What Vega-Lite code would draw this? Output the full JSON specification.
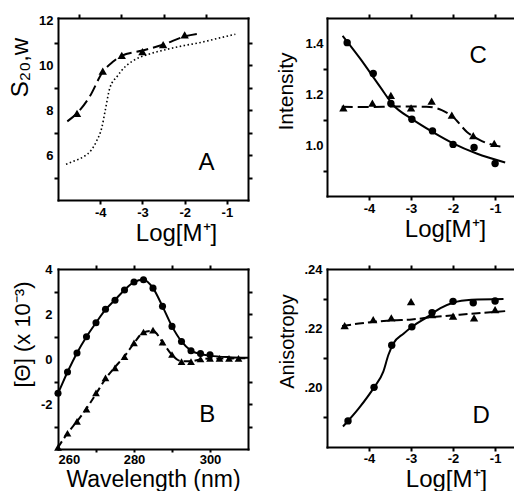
{
  "$schema": "https://vega.github.io/schema/vega-lite/v6.json",
  "padding": {"left": 8, "top": 13, "right": 0, "bottom": 0},
  "background": "white",
  "columns": 2,
  "spacing": {"row": 69, "column": 79},
  "bounds": "flush",
  "config": {
    "font": "Liberation Sans",
    "view": {"stroke": null},
    "axis": {
      "grid": false, "domain": false, "domainColor": "black", "domainWidth": 2, "domainCap": "square",
      "ticks": false, "tickColor": "black", "tickWidth": 2, "tickSize": 4,
      "labelFont": "Liberation Sans", "labelFontWeight": "bold", "labelFontSize": 13, "labelColor": "black",
      "labelPadding": 5,
      "titleFont": "Liberation Sans", "titleFontWeight": "normal", "titleFontSize": 22, "titleColor": "black"
    }
  },
  "concat": [
    {
      "width": 190, "height": 182,
      "data": {"values": [
        {"s": "tri", "x": -4.55, "y": 7.86}, {"s": "tri", "x": -3.94, "y": 9.74}, {"s": "tri", "x": -3.49, "y": 10.44},
        {"s": "tri", "x": -3.0, "y": 10.6}, {"s": "tri", "x": -2.51, "y": 10.92}, {"s": "tri", "x": -2.0, "y": 11.35},
        {"s": "dash", "x": -4.78, "y": 7.5}, {"s": "dash", "x": -4.55, "y": 7.86}, {"s": "dash", "x": -4.25, "y": 8.6},
        {"s": "dash", "x": -3.94, "y": 9.7}, {"s": "dash", "x": -3.7, "y": 10.15}, {"s": "dash", "x": -3.49, "y": 10.42},
        {"s": "dash", "x": -3.0, "y": 10.65}, {"s": "dash", "x": -2.5, "y": 10.92}, {"s": "dash", "x": -2.0, "y": 11.28},
        {"s": "dash", "x": -1.6, "y": 11.42},
        {"s": "dot", "x": -4.81, "y": 5.59}, {"s": "dot", "x": -4.6, "y": 5.75}, {"s": "dot", "x": -4.39, "y": 5.93},
        {"s": "dot", "x": -4.2, "y": 6.25}, {"s": "dot", "x": -4.08, "y": 6.65}, {"s": "dot", "x": -3.96, "y": 7.24},
        {"s": "dot", "x": -3.88, "y": 8.0}, {"s": "dot", "x": -3.77, "y": 9.0}, {"s": "dot", "x": -3.6, "y": 9.5},
        {"s": "dot", "x": -3.4, "y": 9.95}, {"s": "dot", "x": -3.22, "y": 10.2}, {"s": "dot", "x": -2.83, "y": 10.5},
        {"s": "dot", "x": -2.43, "y": 10.7}, {"s": "dot", "x": -2.0, "y": 10.88}, {"s": "dot", "x": -1.65, "y": 11.0},
        {"s": "dot", "x": -1.2, "y": 11.2}, {"s": "dot", "x": -0.8, "y": 11.38},
        {"s": "lab", "x": -1.48, "y": 5.66, "t": "A"}
      ]},
      "layer": [
        {
          "transform": [{"filter": "datum.s == 'dot'"}],
          "mark": {"type": "line", "interpolate": "monotone", "strokeDash": [1.5, 2.5], "strokeWidth": 1.6, "color": "black", "clip": true},
          "encoding": {
            "x": {"field": "x", "type": "quantitative", "scale": {"domain": [-5, -0.5], "nice": false, "zero": false},
                  "axis": {"orient": "bottom", "domain": true, "values": [-4, -3, -2, -1], "labelExpr": "'-' + abs(datum.value)", "title": "Log[M⁺]", "titleFontSize": 24, "titleX": 118, "labelPadding": 6, "titlePadding": 2}},
            "y": {"field": "y", "type": "quantitative", "scale": {"domain": [4, 12.1], "nice": false, "zero": false},
                  "axis": {"orient": "left", "domain": true, "values": [6, 8, 10, 12], "title": "S₂₀,w", "titleFontSize": 24, "titleY": 49, "labelPadding": 5, "titlePadding": 6}}
          }
        },
        {
          "transform": [{"filter": "datum.s == 'dash'"}],
          "mark": {"type": "line", "interpolate": "monotone", "strokeDash": [12, 5], "strokeWidth": 2, "color": "black", "clip": true},
          "encoding": {
            "x": {"field": "x", "type": "quantitative", "scale": {"domain": [-5, -0.5], "nice": false, "zero": false},
                  "axis": {"orient": "top", "domain": true, "labels": false, "title": null}},
            "y": {"field": "y", "type": "quantitative", "scale": {"domain": [4, 12.1], "nice": false, "zero": false},
                  "axis": {"orient": "right", "domain": true, "labels": false, "title": null}}
          }
        },
        {
          "transform": [{"filter": "datum.s == 'tri'"}],
          "mark": {"type": "point", "shape": "triangle-up", "filled": true, "size": 70, "color": "black", "opacity": 1},
          "encoding": {
            "x": {"field": "x", "type": "quantitative", "scale": {"domain": [-5, -0.5], "nice": false, "zero": false},
                  "axis": {"orient": "bottom", "ticks": true, "tickSize": 4, "tickColor": "black", "tickWidth": 2, "values": [-4, -3, -2, -1], "labels": false, "title": null}},
            "y": {"field": "y", "type": "quantitative", "scale": {"domain": [4, 12.1], "nice": false, "zero": false},
                  "axis": {"orient": "left", "ticks": true, "tickSize": 4, "tickColor": "black", "tickWidth": 2, "values": [5, 7, 9, 11], "labels": false, "title": null}}
          }
        },
        {
          "transform": [{"filter": "datum.s == 'lab'"}],
          "mark": {"type": "text", "fontSize": 24, "font": "Liberation Sans", "color": "black", "baseline": "middle", "align": "center"},
          "encoding": {
            "x": {"field": "x", "type": "quantitative", "scale": {"domain": [-5, -0.5], "nice": false, "zero": false},
                  "axis": {"orient": "top", "ticks": true, "tickSize": 4, "tickColor": "black", "tickWidth": 2, "values": [-4.5, -3.5, -2.5, -1.5], "labels": false, "title": null}},
            "y": {"field": "y", "type": "quantitative", "scale": {"domain": [4, 12.1], "nice": false, "zero": false},
                  "axis": {"orient": "right", "ticks": true, "tickSize": 4, "tickColor": "black", "tickWidth": 2, "values": [5, 6, 7, 8, 9, 10, 11], "labels": false, "title": null}},
            "text": {"field": "t"}
          }
        }
      ],
      "resolve": {"axis": {"x": "independent", "y": "independent"}}
    },
    {
      "width": 187, "height": 178,
      "data": {"values": [
        {"s": "circ", "x": -4.52, "y": 1.403}, {"s": "circ", "x": -3.9, "y": 1.282}, {"s": "circ", "x": -3.48, "y": 1.164},
        {"s": "circ", "x": -2.98, "y": 1.102}, {"s": "circ", "x": -2.49, "y": 1.056}, {"s": "circ", "x": -2.0, "y": 1.003},
        {"s": "circ", "x": -1.5, "y": 0.991}, {"s": "circ", "x": -1.0, "y": 0.928},
        {"s": "tri", "x": -4.61, "y": 1.147}, {"s": "tri", "x": -3.92, "y": 1.165}, {"s": "tri", "x": -3.48, "y": 1.196},
        {"s": "tri", "x": -3.0, "y": 1.147}, {"s": "tri", "x": -2.51, "y": 1.173}, {"s": "tri", "x": -2.03, "y": 1.118},
        {"s": "tri", "x": -1.52, "y": 1.037}, {"s": "tri", "x": -1.02, "y": 1.007},
        {"s": "solid", "x": -4.63, "y": 1.43}, {"s": "solid", "x": -4.21, "y": 1.34}, {"s": "solid", "x": -3.74, "y": 1.23},
        {"s": "solid", "x": -3.42, "y": 1.157}, {"s": "solid", "x": -3.0, "y": 1.105}, {"s": "solid", "x": -2.47, "y": 1.05},
        {"s": "solid", "x": -2.0, "y": 1.007}, {"s": "solid", "x": -1.44, "y": 0.967}, {"s": "solid", "x": -0.76, "y": 0.932},
        {"s": "dash", "x": -4.65, "y": 1.151}, {"s": "dash", "x": -4.0, "y": 1.15}, {"s": "dash", "x": -3.3, "y": 1.152},
        {"s": "dash", "x": -2.63, "y": 1.151}, {"s": "dash", "x": -2.27, "y": 1.138}, {"s": "dash", "x": -2.0, "y": 1.111},
        {"s": "dash", "x": -1.67, "y": 1.052}, {"s": "dash", "x": -1.36, "y": 1.02}, {"s": "dash", "x": -1.04, "y": 1.0},
        {"s": "dash", "x": -0.76, "y": 0.993},
        {"s": "lab", "x": -1.4, "y": 1.35, "t": "C"}
      ]},
      "layer": [
        {
          "transform": [{"filter": "datum.s == 'solid'"}],
          "mark": {"type": "line", "interpolate": "monotone", "strokeWidth": 2, "color": "black", "clip": true},
          "encoding": {
            "x": {"field": "x", "type": "quantitative", "scale": {"domain": [-5, -0.55], "nice": false, "zero": false},
                  "axis": {"orient": "bottom", "domain": true, "values": [-4, -3, -2, -1], "labelExpr": "'-' + abs(datum.value)", "title": "Log[M⁺]", "titleFontSize": 24, "titleX": 118, "labelPadding": 6, "titlePadding": 2}},
            "y": {"field": "y", "type": "quantitative", "scale": {"domain": [0.8, 1.5], "nice": false, "zero": false},
                  "axis": {"orient": "left", "domain": true, "values": [1.0, 1.2, 1.4], "format": ".1f", "title": "Intensity", "titleFontSize": 21, "titleY": 73, "labelPadding": 4, "titlePadding": 8}}
          }
        },
        {
          "transform": [{"filter": "datum.s == 'dash'"}],
          "mark": {"type": "line", "interpolate": "monotone", "strokeDash": [11, 5], "strokeWidth": 2, "color": "black", "clip": true},
          "encoding": {
            "x": {"field": "x", "type": "quantitative", "scale": {"domain": [-5, -0.55], "nice": false, "zero": false},
                  "axis": {"orient": "top", "domain": true, "labels": false, "title": null}},
            "y": {"field": "y", "type": "quantitative", "scale": {"domain": [0.8, 1.5], "nice": false, "zero": false}, "axis": null}
          }
        },
        {
          "transform": [{"filter": "datum.s == 'tri'"}],
          "mark": {"type": "point", "shape": "triangle-up", "filled": true, "size": 70, "color": "black", "opacity": 1},
          "encoding": {
            "x": {"field": "x", "type": "quantitative", "scale": {"domain": [-5, -0.55], "nice": false, "zero": false},
                  "axis": {"orient": "bottom", "ticks": true, "tickSize": 4, "tickColor": "black", "tickWidth": 2, "values": [-4, -3, -2, -1], "labels": false, "title": null}},
            "y": {"field": "y", "type": "quantitative", "scale": {"domain": [0.8, 1.5], "nice": false, "zero": false},
                  "axis": {"orient": "left", "ticks": true, "tickSize": 4, "tickColor": "black", "tickWidth": 2, "values": [0.9, 1.1, 1.3], "labels": false, "title": null}}
          }
        },
        {
          "transform": [{"filter": "datum.s == 'circ'"}],
          "mark": {"type": "point", "shape": "circle", "filled": true, "size": 55, "color": "black", "opacity": 1},
          "encoding": {
            "x": {"field": "x", "type": "quantitative", "scale": {"domain": [-5, -0.55], "nice": false, "zero": false},
                  "axis": {"orient": "top", "ticks": true, "tickSize": 4, "tickColor": "black", "tickWidth": 2, "values": [-4, -3, -2, -1], "labels": false, "title": null}},
            "y": {"field": "y", "type": "quantitative", "scale": {"domain": [0.8, 1.5], "nice": false, "zero": false}, "axis": null}
          }
        },
        {
          "transform": [{"filter": "datum.s == 'lab'"}],
          "mark": {"type": "text", "fontSize": 24, "font": "Liberation Sans", "color": "black", "baseline": "middle", "align": "center"},
          "encoding": {
            "x": {"field": "x", "type": "quantitative", "scale": {"domain": [-5, -0.55], "nice": false, "zero": false}, "axis": null},
            "y": {"field": "y", "type": "quantitative", "scale": {"domain": [0.8, 1.5], "nice": false, "zero": false}, "axis": null},
            "text": {"field": "t"}
          }
        }
      ],
      "resolve": {"axis": {"x": "independent", "y": "independent"}}
    },
    {
      "width": 190, "height": 180,
      "data": {"values": [
        {"s": "circ", "x": 260, "y": -1.52}, {"s": "circ", "x": 262.5, "y": -0.58}, {"s": "circ", "x": 265, "y": 0.27},
        {"s": "circ", "x": 267.5, "y": 0.99}, {"s": "circ", "x": 270, "y": 1.61}, {"s": "circ", "x": 272.5, "y": 2.21},
        {"s": "circ", "x": 275, "y": 2.61}, {"s": "circ", "x": 277.5, "y": 3.07}, {"s": "circ", "x": 280, "y": 3.42},
        {"s": "circ", "x": 282.5, "y": 3.52}, {"s": "circ", "x": 285, "y": 3.15}, {"s": "circ", "x": 287.5, "y": 2.34},
        {"s": "circ", "x": 290, "y": 1.45}, {"s": "circ", "x": 292.5, "y": 0.78}, {"s": "circ", "x": 295, "y": 0.37},
        {"s": "circ", "x": 297.5, "y": 0.24}, {"s": "circ", "x": 300, "y": 0.19},
        {"s": "solid", "x": 259, "y": -1.85}, {"s": "solid", "x": 260, "y": -1.52}, {"s": "solid", "x": 262.5, "y": -0.58},
        {"s": "solid", "x": 265, "y": 0.27}, {"s": "solid", "x": 267.5, "y": 0.99}, {"s": "solid", "x": 270, "y": 1.61},
        {"s": "solid", "x": 272.5, "y": 2.19}, {"s": "solid", "x": 275, "y": 2.63}, {"s": "solid", "x": 277.5, "y": 3.07},
        {"s": "solid", "x": 280, "y": 3.42}, {"s": "solid", "x": 282.5, "y": 3.52}, {"s": "solid", "x": 285, "y": 3.15},
        {"s": "solid", "x": 287.5, "y": 2.34}, {"s": "solid", "x": 290, "y": 1.45}, {"s": "solid", "x": 292.5, "y": 0.78},
        {"s": "solid", "x": 295, "y": 0.37}, {"s": "solid", "x": 297.5, "y": 0.22}, {"s": "solid", "x": 300, "y": 0.15},
        {"s": "solid", "x": 305, "y": 0.08}, {"s": "solid", "x": 310, "y": 0.05},
        {"s": "tri", "x": 260, "y": -3.93}, {"s": "tri", "x": 262.5, "y": -3.3}, {"s": "tri", "x": 265, "y": -2.77},
        {"s": "tri", "x": 267.5, "y": -2.23}, {"s": "tri", "x": 270, "y": -1.51}, {"s": "tri", "x": 272.5, "y": -0.84},
        {"s": "tri", "x": 275, "y": -0.39}, {"s": "tri", "x": 277.5, "y": 0.1}, {"s": "tri", "x": 280, "y": 0.72},
        {"s": "tri", "x": 282.5, "y": 1.2}, {"s": "tri", "x": 285, "y": 1.28}, {"s": "tri", "x": 287.5, "y": 0.75},
        {"s": "tri", "x": 290, "y": 0.2}, {"s": "tri", "x": 292.5, "y": -0.12}, {"s": "tri", "x": 295, "y": -0.12},
        {"s": "tri", "x": 297.5, "y": 0.0}, {"s": "tri", "x": 300, "y": 0.03}, {"s": "tri", "x": 302.5, "y": 0.03},
        {"s": "tri", "x": 305, "y": 0.03}, {"s": "tri", "x": 307.5, "y": 0.03},
        {"s": "dash", "x": 260, "y": -3.93}, {"s": "dash", "x": 262.5, "y": -3.3}, {"s": "dash", "x": 265, "y": -2.77},
        {"s": "dash", "x": 267.5, "y": -2.2}, {"s": "dash", "x": 270, "y": -1.55}, {"s": "dash", "x": 272.5, "y": -0.88},
        {"s": "dash", "x": 275, "y": -0.36}, {"s": "dash", "x": 277.5, "y": 0.12}, {"s": "dash", "x": 280, "y": 0.7},
        {"s": "dash", "x": 282.5, "y": 1.18}, {"s": "dash", "x": 285, "y": 1.25}, {"s": "dash", "x": 287.5, "y": 0.75},
        {"s": "dash", "x": 290, "y": 0.18}, {"s": "dash", "x": 292.5, "y": -0.1}, {"s": "dash", "x": 295, "y": -0.1},
        {"s": "dash", "x": 297.5, "y": -0.02}, {"s": "dash", "x": 300, "y": 0.02}, {"s": "dash", "x": 310, "y": 0.03},
        {"s": "lab", "x": 299.3, "y": -2.49, "t": "B"}
      ]},
      "layer": [
        {
          "transform": [{"filter": "datum.s == 'solid'"}],
          "mark": {"type": "line", "interpolate": "monotone", "strokeWidth": 2, "color": "black", "clip": true},
          "encoding": {
            "x": {"field": "x", "type": "quantitative", "scale": {"domain": [260, 310], "nice": false, "zero": false},
                  "axis": {"orient": "bottom", "domain": true, "values": [260, 280, 300], "title": "Wavelength (nm)", "titleFontSize": 23, "labelPadding": 4, "titlePadding": 2}},
            "y": {"field": "y", "type": "quantitative", "scale": {"domain": [-4, 4], "nice": false, "zero": false},
                  "axis": {"orient": "left", "domain": true, "values": [-2, 0, 2, 4], "labelExpr": "datum.value < 0 ? '-' + abs(datum.value) : '' + datum.value", "title": "[Θ] (x 10⁻³)", "titleFontSize": 22, "titleY": 65, "labelPadding": 6, "titlePadding": 6}}
          }
        },
        {
          "transform": [{"filter": "datum.s == 'dash'"}],
          "mark": {"type": "line", "interpolate": "monotone", "strokeDash": [7, 4], "strokeWidth": 2, "color": "black", "clip": true},
          "encoding": {
            "x": {"field": "x", "type": "quantitative", "scale": {"domain": [260, 310], "nice": false, "zero": false},
                  "axis": {"orient": "top", "domain": true, "labels": false, "title": null}},
            "y": {"field": "y", "type": "quantitative", "scale": {"domain": [-4, 4], "nice": false, "zero": false},
                  "axis": {"orient": "right", "domain": true, "labels": false, "title": null}}
          }
        },
        {
          "transform": [{"filter": "datum.s == 'tri'"}],
          "mark": {"type": "point", "shape": "triangle-up", "filled": true, "size": 60, "color": "black", "opacity": 1},
          "encoding": {
            "x": {"field": "x", "type": "quantitative", "scale": {"domain": [260, 310], "nice": false, "zero": false},
                  "axis": {"orient": "bottom", "ticks": true, "tickSize": 3, "tickColor": "black", "tickWidth": 2, "values": [270, 280, 290, 300], "labels": false, "title": null}},
            "y": {"field": "y", "type": "quantitative", "scale": {"domain": [-4, 4], "nice": false, "zero": false},
                  "axis": {"orient": "left", "ticks": true, "tickSize": 4, "tickColor": "black", "tickWidth": 2, "values": [-3, -1, 1, 3], "labels": false, "title": null}}
          }
        },
        {
          "transform": [{"filter": "datum.s == 'circ'"}],
          "mark": {"type": "point", "shape": "circle", "filled": true, "size": 50, "color": "black", "opacity": 1},
          "encoding": {
            "x": {"field": "x", "type": "quantitative", "scale": {"domain": [260, 310], "nice": false, "zero": false},
                  "axis": {"orient": "top", "ticks": true, "tickSize": 4, "tickColor": "black", "tickWidth": 2, "values": [270, 280, 290, 300], "labels": false, "title": null}},
            "y": {"field": "y", "type": "quantitative", "scale": {"domain": [-4, 4], "nice": false, "zero": false},
                  "axis": {"orient": "right", "ticks": true, "tickSize": 4, "tickColor": "black", "tickWidth": 2, "values": [-3, -2, -1, 1, 2, 3], "labels": false, "title": null}}
          }
        },
        {
          "transform": [{"filter": "datum.s == 'lab'"}],
          "mark": {"type": "text", "fontSize": 24, "font": "Liberation Sans", "color": "black", "baseline": "middle", "align": "center"},
          "encoding": {
            "x": {"field": "x", "type": "quantitative", "scale": {"domain": [260, 310], "nice": false, "zero": false}, "axis": null},
            "y": {"field": "y", "type": "quantitative", "scale": {"domain": [-4, 4], "nice": false, "zero": false}, "axis": null},
            "text": {"field": "t"}
          }
        }
      ],
      "resolve": {"axis": {"x": "independent", "y": "independent"}}
    },
    {
      "width": 187, "height": 178,
      "data": {"values": [
        {"s": "circ", "x": -4.5, "y": 0.1888}, {"s": "circ", "x": -3.88, "y": 0.2001}, {"s": "circ", "x": -3.46, "y": 0.2143},
        {"s": "circ", "x": -2.98, "y": 0.2205}, {"s": "circ", "x": -2.5, "y": 0.2253}, {"s": "circ", "x": -2.0, "y": 0.2291},
        {"s": "circ", "x": -1.52, "y": 0.2286}, {"s": "circ", "x": -1.0, "y": 0.2292},
        {"s": "tri", "x": -4.58, "y": 0.2209}, {"s": "tri", "x": -3.9, "y": 0.2229}, {"s": "tri", "x": -3.47, "y": 0.2235},
        {"s": "tri", "x": -3.0, "y": 0.229}, {"s": "tri", "x": -2.5, "y": 0.2246}, {"s": "tri", "x": -2.0, "y": 0.2241},
        {"s": "tri", "x": -1.5, "y": 0.2235}, {"s": "tri", "x": -1.0, "y": 0.2263},
        {"s": "solid", "x": -4.62, "y": 0.1869}, {"s": "solid", "x": -4.24, "y": 0.1931}, {"s": "solid", "x": -3.88, "y": 0.2001},
        {"s": "solid", "x": -3.66, "y": 0.2054}, {"s": "solid", "x": -3.54, "y": 0.211}, {"s": "solid", "x": -3.42, "y": 0.2149},
        {"s": "solid", "x": -3.18, "y": 0.2182}, {"s": "solid", "x": -2.96, "y": 0.2207}, {"s": "solid", "x": -2.62, "y": 0.2238},
        {"s": "solid", "x": -2.3, "y": 0.2268}, {"s": "solid", "x": -2.0, "y": 0.2286}, {"s": "solid", "x": -1.56, "y": 0.2296},
        {"s": "solid", "x": -0.8, "y": 0.2299},
        {"s": "dash", "x": -4.64, "y": 0.2208}, {"s": "dash", "x": -4.24, "y": 0.2216}, {"s": "dash", "x": -3.44, "y": 0.2227},
        {"s": "dash", "x": -2.98, "y": 0.223}, {"s": "dash", "x": -2.48, "y": 0.2238}, {"s": "dash", "x": -1.84, "y": 0.2246},
        {"s": "dash", "x": -0.76, "y": 0.2258},
        {"s": "lab", "x": -1.33, "y": 0.1905, "t": "D"}
      ]},
      "layer": [
        {
          "transform": [{"filter": "datum.s == 'solid'"}],
          "mark": {"type": "line", "interpolate": "monotone", "strokeWidth": 2, "color": "black", "clip": true},
          "encoding": {
            "x": {"field": "x", "type": "quantitative", "scale": {"domain": [-5, -0.55], "nice": false, "zero": false},
                  "axis": {"orient": "bottom", "domain": true, "values": [-4, -3, -2, -1], "labelExpr": "'-' + abs(datum.value)", "title": "Log[M⁺]", "titleFontSize": 24, "titleX": 119, "labelPadding": 5, "titlePadding": 2}},
            "y": {"field": "y", "type": "quantitative", "scale": {"domain": [0.18, 0.24], "nice": false, "zero": false},
                  "axis": {"orient": "left", "domain": true, "values": [0.2, 0.22, 0.24], "labelExpr": "'.' + round(datum.value * 100)", "title": "Anisotropy", "titleFontSize": 20, "titleY": 72, "labelPadding": 5, "titlePadding": 6}}
          }
        },
        {
          "transform": [{"filter": "datum.s == 'dash'"}],
          "mark": {"type": "line", "interpolate": "monotone", "strokeDash": [9, 4], "strokeWidth": 2, "color": "black", "clip": true},
          "encoding": {
            "x": {"field": "x", "type": "quantitative", "scale": {"domain": [-5, -0.55], "nice": false, "zero": false},
                  "axis": {"orient": "top", "domain": true, "labels": false, "title": null}},
            "y": {"field": "y", "type": "quantitative", "scale": {"domain": [0.18, 0.24], "nice": false, "zero": false}, "axis": null}
          }
        },
        {
          "transform": [{"filter": "datum.s == 'tri'"}],
          "mark": {"type": "point", "shape": "triangle-up", "filled": true, "size": 70, "color": "black", "opacity": 1},
          "encoding": {
            "x": {"field": "x", "type": "quantitative", "scale": {"domain": [-5, -0.55], "nice": false, "zero": false},
                  "axis": {"orient": "bottom", "ticks": true, "tickSize": 4, "tickColor": "black", "tickWidth": 2, "values": [-4, -3, -2, -1], "labels": false, "title": null}},
            "y": {"field": "y", "type": "quantitative", "scale": {"domain": [0.18, 0.24], "nice": false, "zero": false},
                  "axis": {"orient": "left", "ticks": true, "tickSize": 4, "tickColor": "black", "tickWidth": 2, "values": [0.19, 0.21, 0.23], "labels": false, "title": null}}
          }
        },
        {
          "transform": [{"filter": "datum.s == 'circ'"}],
          "mark": {"type": "point", "shape": "circle", "filled": true, "size": 55, "color": "black", "opacity": 1},
          "encoding": {
            "x": {"field": "x", "type": "quantitative", "scale": {"domain": [-5, -0.55], "nice": false, "zero": false},
                  "axis": {"orient": "top", "ticks": true, "tickSize": 4, "tickColor": "black", "tickWidth": 2, "values": [-4, -3, -2, -1], "labels": false, "title": null}},
            "y": {"field": "y", "type": "quantitative", "scale": {"domain": [0.18, 0.24], "nice": false, "zero": false}, "axis": null}
          }
        },
        {
          "transform": [{"filter": "datum.s == 'lab'"}],
          "mark": {"type": "text", "fontSize": 24, "font": "Liberation Sans", "color": "black", "baseline": "middle", "align": "center"},
          "encoding": {
            "x": {"field": "x", "type": "quantitative", "scale": {"domain": [-5, -0.55], "nice": false, "zero": false}, "axis": null},
            "y": {"field": "y", "type": "quantitative", "scale": {"domain": [0.18, 0.24], "nice": false, "zero": false}, "axis": null},
            "text": {"field": "t"}
          }
        }
      ],
      "resolve": {"axis": {"x": "independent", "y": "independent"}}
    }
  ]
}
